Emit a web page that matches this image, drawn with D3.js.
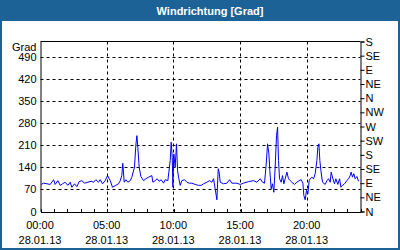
<!DOCTYPE html>
<meta charset="utf-8">
<script src="https://d3js.org/d3.v7.min.js"></script>
<style>
  body { margin: 0; background: #fff; }
  svg text { font-family: "Liberation Sans", Arial, sans-serif; font-size: 11px; }
</style>
<body>
<svg id="chart" width="400" height="250"></svg>
<script>
// measurement times (hours of 28.01.13) and wind direction in degrees
var hours = [0.05,0.23,0.48,0.73,0.98,1.1,1.3,1.48,1.65,1.85,2.05,2.23,2.35,2.55,2.73,2.9,3.1,3.3,3.55,3.8,3.98,4.15,4.35,4.48,4.65,4.85,5.03,5.23,5.4,5.65,5.85,
  5.95,6.1,6.17,6.28,6.4,6.55,6.73,6.85,7.05,7.15,7.23,7.3,7.4,7.53,7.73,7.9,8.1,8.35,8.43,8.6,8.75,8.9,9.05,9.23,9.35,9.55,9.73,9.8,9.88,9.93,10.0,10.1,10.2,10.28,10.35,10.48,10.6,10.8,10.98,11.15,11.35,11.6,11.85,
  12.05,12.23,12.48,12.68,12.85,12.98,13.1,13.23,13.33,13.4,13.48,13.73,13.98,14.18,14.35,14.73,14.98,15.23,15.6,15.98,16.23,16.48,16.65,16.8,16.93,17.03,17.13,17.2,17.3,17.4,17.5,17.6,17.7,17.78,17.85,
  17.93,18.05,18.15,18.25,18.35,18.48,18.6,18.73,18.85,19.05,19.23,19.4,19.55,19.68,19.75,19.85,19.95,20.05,20.15,20.23,20.35,20.48,20.6,20.73,20.8,20.88,20.95,21.03,21.15,21.35,21.48,21.6,21.73,21.8,21.93,22.05,22.15,22.3,22.43,22.53,22.65,22.8,22.98,23.1,23.23,23.3,23.4,23.5,23.6,23.73,23.85];
var degrees = [86,90,88,86,101,86,98,83,88,93,83,93,77,88,79,95,98,90,93,96,93,101,93,101,88,98,114,98,77,83,88,
  95,114,153,93,101,93,98,109,141,210,241,204,141,111,98,104,109,114,93,98,104,96,101,90,101,98,162,220,172,77,183,141,215,130,109,83,98,101,93,90,90,86,83,
  83,88,93,98,93,104,72,37,136,125,93,88,90,101,90,90,86,90,95,98,93,104,93,90,151,215,183,130,72,88,61,141,241,268,162,
  104,93,114,88,104,125,104,98,93,86,93,98,101,90,51,37,67,56,98,104,109,104,120,162,204,215,162,130,93,86,98,104,93,125,104,88,104,86,104,77,83,88,98,104,114,125,109,120,104,111,96];

var gradTicks = [0,70,140,210,280,350,420,490];
var compass = ["N","NE","E","SE","S","SW","W","NW","N","NE","E","SE","S"];
var majorHours = [0,5,10,15,20];
var timeLabels = ["00:00","05:00","10:00","15:00","20:00"];
var dateLabel = "28.01.13";
var title = "Windrichtung [Grad]";

var frameBlue = "#1d6297";
var svg = d3.select("#chart");

// frame + title bar
svg.append("rect").attr("x", 0).attr("y", 0).attr("width", 400).attr("height", 250).attr("fill", frameBlue);
svg.append("rect").attr("x", 2).attr("y", 21).attr("width", 396).attr("height", 227).attr("fill", "#fff");
svg.append("text").attr("x", 210).attr("y", 15).attr("text-anchor", "middle")
  .attr("fill", "#fff").style("font-weight", "bold").text(title);

var x = d3.scaleLinear().domain([0, 24]).range([40, 360]);
var y = d3.scaleLinear().domain([0, 540]).range([211, 41]);

var g = svg.append("g").attr("transform", "translate(0.5,0.5)");

// dashed grid
g.selectAll(".hgrid").data(gradTicks.filter(d => d > 0)).enter().append("line")
  .attr("x1", x(0)).attr("x2", x(24)).attr("y1", d => Math.round(y(d))).attr("y2", d => Math.round(y(d)))
  .attr("stroke", "#000").attr("stroke-dasharray", "3,3");
g.selectAll(".vgrid").data(majorHours.filter(d => d > 0)).enter().append("line")
  .attr("y1", y(540)).attr("y2", y(0)).attr("x1", d => Math.round(x(d))).attr("x2", d => Math.round(x(d)))
  .attr("stroke", "#000").attr("stroke-dasharray", "3,3");

// bottom axis with hourly ticks pointing inward
var xAxis = g.append("g").attr("transform", "translate(0," + y(0) + ")")
  .call(d3.axisBottom(x).tickValues(d3.range(0, 25)).tickSize(-3).tickSizeOuter(0).tickFormat(""));
xAxis.selectAll("line,path").attr("stroke", "#000").attr("shape-rendering", "crispEdges");

// left axis
var yAxis = g.append("g").attr("transform", "translate(" + x(0) + ",0)")
  .call(d3.axisLeft(y).tickValues(gradTicks).tickSize(0).tickPadding(4));
yAxis.select(".domain").attr("stroke", "#000");
yAxis.selectAll("text").attr("fill", "#000").style("font-size", "11px").style("font-family", "Liberation Sans, Arial, sans-serif");
g.append("text").attr("x", 36).attr("y", 50).attr("text-anchor", "end").text("Grad");

// right axis with compass directions
var rAxis = g.append("g").attr("transform", "translate(" + x(24) + ",0)")
  .call(d3.axisRight(y).tickValues(d3.range(0, 541, 45)).tickSize(4).tickPadding(1)
    .tickFormat((d, i) => compass[i]));
rAxis.selectAll("line,path").attr("stroke", "#000");
rAxis.selectAll("text").attr("fill", "#000").style("font-size", "11px").style("font-family", "Liberation Sans, Arial, sans-serif");

// top border
g.append("line").attr("x1", x(0)).attr("x2", x(24)).attr("y1", y(540)).attr("y2", y(540)).attr("stroke", "#000");

// time labels
var lab = svg.selectAll(".tl").data(majorHours).enter().append("g");
lab.append("text").attr("x", d => x(d)).attr("y", 229).attr("text-anchor", "middle").text((d, i) => timeLabels[i]);
lab.append("text").attr("x", d => x(d)).attr("y", 244).attr("text-anchor", "middle").text(dateLabel);

// data line
var line = d3.line().x((d, i) => x(hours[i])).y(d => y(d));
g.append("path").datum(degrees).attr("fill", "none").attr("stroke", "#0000ff").attr("stroke-width", 1).attr("d", line);
</script>
</body>
